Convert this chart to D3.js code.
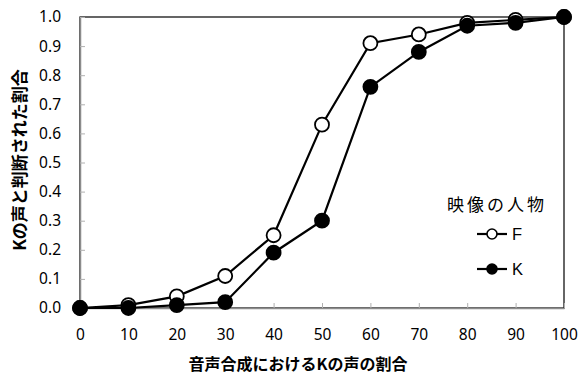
<!DOCTYPE html>
<html><head><meta charset="utf-8">
<script src="https://cdn.jsdelivr.net/npm/d3@7"></script>
<style>
body{margin:0;background:#fff;}
svg{display:block;}
</style></head><body>
<svg id="c" width="582" height="376"></svg>
<script>
const xValues = [0,10,20,30,40,50,60,70,80,90,100];
const seriesF = [0,0.01,0.04,0.11,0.25,0.63,0.91,0.94,0.98,0.99,1.0];
const seriesK = [0,0.0,0.01,0.02,0.19,0.30,0.76,0.88,0.97,0.98,1.0];
const yTicks = [0,0.1,0.2,0.3,0.4,0.5,0.6,0.7,0.8,0.9,1.0];
const xTitle = "音声合成におけるKの声の割合";
const yTitle = "Kの声と判断された割合";
const legendTitle = "映像の人物";
const seriesNames = ["F","K"];

const svg = d3.select("#c");
const L=80,T=17,R=564,B=308;
const x = d3.scaleLinear().domain([0,100]).range([L,R]);
const y = d3.scaleLinear().domain([0,1]).range([B,T]);
const tickFont = "'Noto Sans', sans-serif";
const cjk = "'Noto Sans CJK JP', sans-serif";

// plot border
svg.append("rect").attr("x",L).attr("y",T).attr("width",R-L).attr("height",B-T)
  .attr("fill","none").attr("stroke","#000").attr("stroke-width",1.2);

// y axis
const yAxis = svg.append("g").attr("transform",`translate(${L},0)`)
  .call(d3.axisLeft(y).tickValues(yTicks).tickSizeInner(-5).tickSizeOuter(0).tickPadding(19).tickFormat(d3.format(".1f")));
yAxis.select(".domain").attr("stroke","#8c8c8c").attr("stroke-width",1.5);
yAxis.selectAll(".tick line").attr("stroke","#b0b0b0").attr("stroke-width",1);
yAxis.selectAll("text").attr("font-family",tickFont).attr("font-size",15.5).attr("fill","#000");

// x axis
const xAxis = svg.append("g").attr("transform",`translate(0,${B})`)
  .call(d3.axisBottom(x).tickValues(xValues).tickSizeInner(-5).tickSizeOuter(0).tickPadding(21));
xAxis.select(".domain").attr("stroke","#8c8c8c").attr("stroke-width",1.5);
xAxis.selectAll(".tick line").attr("stroke","#b0b0b0").attr("stroke-width",1);
xAxis.selectAll("text").attr("font-family",tickFont).attr("font-size",15.5).attr("fill","#000");

// titles
svg.append("text").attr("x",298).attr("y",370).attr("text-anchor","middle")
  .attr("font-family",cjk).attr("font-weight","bold").attr("font-size",16).text(xTitle);
svg.append("text").attr("transform",`translate(26,160) rotate(-90)`).attr("text-anchor","middle")
  .attr("font-family",cjk).attr("font-weight","bold").attr("font-size",17).text(yTitle);

const line = d3.line().x((d,i)=>x(xValues[i])).y(d=>y(d));
function drawSeries(vals, fill){
  svg.append("path").datum(vals).attr("d",line).attr("fill","none").attr("stroke","#000").attr("stroke-width",2.2);
  svg.append("g").selectAll("circle").data(vals).join("circle")
    .attr("cx",(d,i)=>x(xValues[i])).attr("cy",d=>y(d)).attr("r",7)
    .attr("fill",fill).attr("stroke","#000").attr("stroke-width",1.8);
}
drawSeries(seriesF,"#fff");
drawSeries(seriesK,"#000");

// legend
svg.append("text").attr("x",447).attr("y",211).attr("font-family",cjk).attr("font-size",17)
  .attr("letter-spacing","3px").text(legendTitle);
const fills=["#fff","#000"];
seriesNames.forEach((n,i)=>{
  const ly = 234 + i*35;
  svg.append("line").attr("x1",477).attr("x2",507).attr("y1",ly).attr("y2",ly).attr("stroke","#000").attr("stroke-width",2.2);
  svg.append("circle").attr("cx",492).attr("cy",ly).attr("r",5).attr("fill",fills[i]).attr("stroke","#000").attr("stroke-width",1.6);
  svg.append("text").attr("x",512).attr("y",ly+6).attr("font-family","'Liberation Sans', Arial, sans-serif").attr("font-size",16.5).text(n);
});
</script></body></html>
